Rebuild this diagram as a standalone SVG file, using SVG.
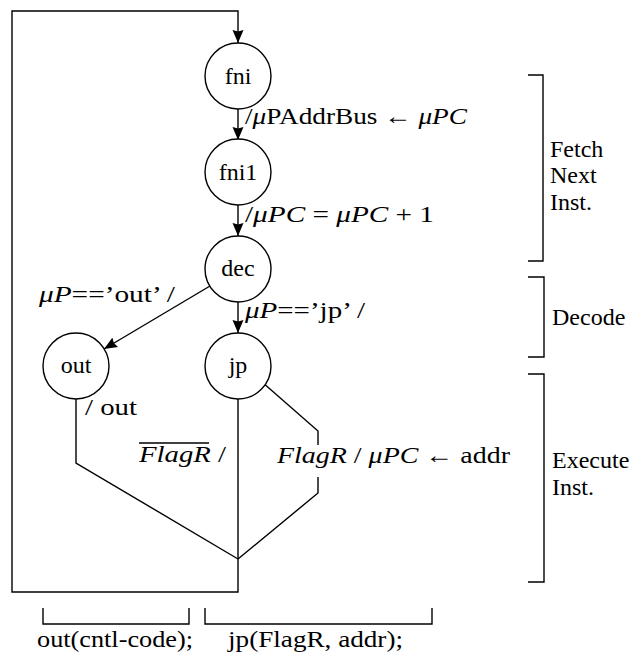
<svg xmlns="http://www.w3.org/2000/svg" width="638" height="655" viewBox="0 0 638 655">
<style>
text{font-family:"Liberation Serif","Times New Roman",serif;font-size:24px;fill:#000}
.c{text-anchor:middle}
.i{font-style:italic}
.n{fill:#fff;stroke:#000;stroke-width:1.4}
.l{fill:none;stroke:#000;stroke-width:1.4}
.a{marker-end:url(#ah)}
</style>
<defs>
<marker id="ah" markerUnits="userSpaceOnUse" markerWidth="14" markerHeight="12" refX="13" refY="6" orient="auto">
<path d="M0,0.5 L13,6 L0,11.5 L1.5,6 z" fill="#000"/>
</marker>
</defs>
<rect width="638" height="655" fill="#fff"/>
<g id="connectors">
<path class="l a" d="M238,399 V592 H12 V11 H238 V43"/>
<path class="l a" d="M238,109 V140"/>
<path class="l a" d="M238,205 V236"/>
<path class="l a" d="M238,302 V333"/>
<path class="l a" d="M210,286 L104,349"/>
<path class="l" d="M76,399 V463 L238,559"/>
<path class="l" d="M262,382 L318,431 V445"/>
<path class="l" d="M318,477 V493 L238,559"/>
</g>
<g id="fni"><circle class="n" cx="238" cy="76" r="33"/><text class="c" x="238" y="84">fni</text></g>
<g id="fni1"><circle class="n" cx="238" cy="172" r="33"/><text class="c" x="238" y="180">fni1</text></g>
<g id="dec"><circle class="n" cx="238" cy="269" r="33"/><text class="c" x="238" y="276">dec</text></g>
<g id="out"><circle class="n" cx="76" cy="366" r="33"/><text class="c" x="76" y="373">out</text></g>
<g id="jp"><circle class="n" cx="238" cy="366" r="33"/><text class="c" x="238" y="373">jp</text></g>
<g id="labels">
<text x="245" y="124" textLength="222" lengthAdjust="spacingAndGlyphs">/<tspan class="i">μ</tspan>PAddrBus ← <tspan class="i">μPC</tspan></text>
<text x="245" y="222" textLength="189" lengthAdjust="spacingAndGlyphs">/<tspan class="i">μPC</tspan> = <tspan class="i">μPC</tspan> + 1</text>
<text x="245" y="318" textLength="120" lengthAdjust="spacingAndGlyphs"><tspan class="i">μP</tspan>==’jp’ /</text>
<text x="39" y="302" textLength="136" lengthAdjust="spacingAndGlyphs"><tspan class="i">μP</tspan>==’out’ /</text>
<text x="85" y="415" textLength="52" lengthAdjust="spacingAndGlyphs">/ out</text>
<text x="139" y="462" textLength="87" lengthAdjust="spacingAndGlyphs"><tspan class="i">FlagR</tspan> /</text>
<line class="l" x1="139" y1="443" x2="209" y2="443" stroke-width="1.2"/>
<text x="277" y="463" textLength="233" lengthAdjust="spacingAndGlyphs"><tspan class="i">FlagR</tspan> / <tspan class="i">μPC</tspan> ← addr</text>
</g>
<g id="phases">
<path class="l" d="M528,75 H543 V261 H528"/>
<path class="l" d="M528,277 H544 V357 H528"/>
<path class="l" d="M528,374 H544 V582 H528"/>
<text x="550" y="157">Fetch</text>
<text x="550" y="183">Next</text>
<text x="550" y="210">Inst.</text>
<text x="552" y="325">Decode</text>
<text x="552" y="468">Execute</text>
<text x="552" y="495">Inst.</text>
</g>
<g id="calls">
<path class="l" d="M43,608 V624 H189 V608"/>
<path class="l" d="M205,608 V624 H432 V608"/>
<text x="37" y="647" textLength="156" lengthAdjust="spacingAndGlyphs">out(cntl-code);</text>
<text x="228" y="647" textLength="175" lengthAdjust="spacingAndGlyphs">jp(FlagR, addr);</text>
</g>
</svg>
